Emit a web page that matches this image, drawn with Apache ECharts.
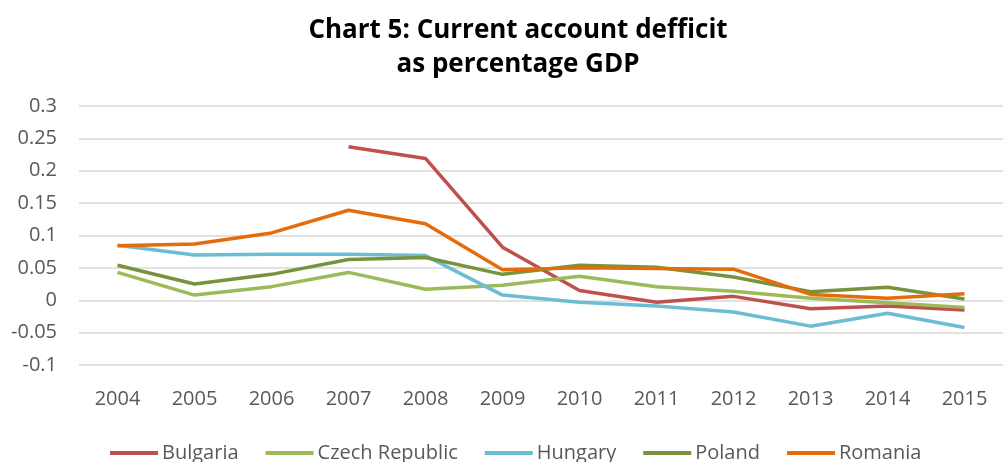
<!DOCTYPE html>
<html lang="en">
<head>
    <meta charset="UTF-8">
    <title>Chart 5</title>
    <style>
        html,body{
            height: 100%;
        }
        body{
            margin: 0;
            padding: 0;
            background: #fff;
        }
        #chart_line{
            width: 1003px;
            height: 462px;
        }
    </style>
</head>
<body>
    <div id="chart_line"></div>
</body>
</html>
<script src="https://cdn.jsdelivr.net/npm/echarts@6/dist/echarts.min.js"></script>
<script>
    var years = ['2004', '2005', '2006', '2007', '2008', '2009', '2010', '2011', '2012', '2013', '2014', '2015'];
    var bulgaria = [null, null, null, 0.237, 0.219, 0.082, 0.015, -0.003, 0.006, -0.013, -0.009, -0.015];
    var czech = [0.043, 0.008, 0.021, 0.043, 0.017, 0.023, 0.037, 0.021, 0.014, 0.003, -0.004, -0.011];
    var hungary = [0.085, 0.070, 0.071, 0.071, 0.069, 0.008, -0.003, -0.009, -0.018, -0.040, -0.020, -0.042];
    var poland = [0.054, 0.025, 0.040, 0.063, 0.066, 0.040, 0.054, 0.051, 0.036, 0.013, 0.020, 0.002];
    var romania = [0.084, 0.087, 0.104, 0.139, 0.118, 0.047, 0.050, 0.049, 0.048, 0.009, 0.003, 0.010];

    var font = '"Open Sans", "Noto Sans", sans-serif';

    function line(name, data, color) {
        return {
            name: name,
            type: 'line',
            data: data,
            symbol: 'none',
            lineStyle: { width: 3.5, color: color },
            itemStyle: { color: color }
        };
    }

    var myChart = echarts.init(document.getElementById('chart_line'));
    myChart.setOption({
        animation: false,
        title: {
            text: 'Chart 5: Current account defficit\nas percentage GDP',
            left: 513,
            textAlign: 'center',
            top: 9,
            textStyle: {
                fontFamily: font,
                fontSize: 26,
                fontWeight: 'bold',
                color: '#000',
                lineHeight: 34
            }
        },
        legend: {
            left: 105,
            top: 438,
            itemWidth: 48,
            itemHeight: 4,
            itemGap: 27,
            icon: 'rect',
            textStyle: { fontFamily: font, fontSize: 20, color: '#595959', padding: [0, 0, 0, -1] },
            data: ['Bulgaria', 'Czech Republic', 'Hungary', 'Poland', 'Romania']
        },
        grid: {
            left: 79,
            right: -12,
            top: 106,
            bottom: 97
        },
        xAxis: {
            type: 'category',
            data: years,
            boundaryGap: true,
            axisLine: { show: false },
            axisTick: { show: false },
            axisLabel: { fontFamily: font, fontSize: 20, color: '#595959', margin: 24 }
        },
        yAxis: {
            type: 'value',
            min: -0.1,
            max: 0.3,
            interval: 0.05,
            axisLine: { show: false },
            axisTick: { show: false },
            axisLabel: {
                fontFamily: font, fontSize: 20, color: '#595959', margin: 22,
                formatter: function (v) { return String(parseFloat(v.toFixed(2))); }
            },
            splitLine: { lineStyle: { color: '#d9d9d9', width: 1.5 } }
        },
        series: [
            line('Bulgaria', bulgaria, '#C0504D'),
            line('Czech Republic', czech, '#9BBB59'),
            line('Hungary', hungary, '#6BBDD3'),
            line('Poland', poland, '#77933C'),
            line('Romania', romania, '#E46C0A')
        ]
    });
</script>
